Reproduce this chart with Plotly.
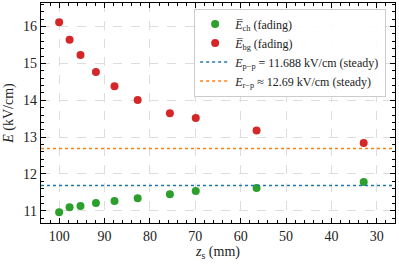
import plotly.graph_objects as go

# Data
z_s = [100, 97.7, 95.3, 91.9, 87.8, 82.7, 75.6, 69.9, 56.5, 32.9]
E_ch = [10.96, 11.10, 11.13, 11.21, 11.27, 11.34, 11.45, 11.54, 11.62, 11.78]
E_bg = [16.12, 15.64, 15.23, 14.77, 14.38, 14.01, 13.65, 13.52, 13.18, 12.84]
E_pp = 11.688
E_rp = 12.69
x_range = [104, 26]
y_range = [10.67, 16.64]

FONT = "Liberation Serif"
fig = go.Figure()
fig.add_trace(go.Scatter(x=z_s, y=E_ch, mode="markers",
                         marker=dict(color="#2ca02c", size=8),
                         name="<i>E\u0305</i><sub>ch</sub> (fading)"))
fig.add_trace(go.Scatter(x=z_s, y=E_bg, mode="markers",
                         marker=dict(color="#d62728", size=8),
                         name="<i>E\u0305</i><sub>bg</sub> (fading)"))
fig.add_trace(go.Scatter(x=x_range, y=[E_pp, E_pp], mode="lines",
                         line=dict(color="#1f77b4", width=1.5, dash="dot"),
                         name="<i>E</i><sub>p\u2212p</sub> = 11.688 kV/cm (steady)"))
fig.add_trace(go.Scatter(x=x_range, y=[E_rp, E_rp], mode="lines",
                         line=dict(color="#ff7f0e", width=1.5, dash="dot"),
                         name="<i>E</i><sub>r\u2212p</sub> \u2248 12.69 kV/cm (steady)"))

axis_common = dict(showline=True, linecolor="black", linewidth=1.2, mirror="allticks",
                   ticks="inside", ticklen=5, tickcolor="black", automargin=False,
                   showgrid=True, gridcolor="#dddddd", griddash="dash", gridwidth=1,
                   zeroline=False, tickfont=dict(family=FONT, size=14, color="#222"))
fig.update_xaxes(**axis_common, range=x_range, dtick=10,
                 minor=dict(dtick=2, ticks="inside", ticklen=2.5, tickcolor="black", showgrid=False),
                 title=dict(text="<i>z</i><sub>s</sub> (mm)", font=dict(family=FONT, size=14, color="#222"),
                            standoff=2))
fig.update_yaxes(**axis_common, range=y_range, dtick=1,
                 minor=dict(dtick=0.2, ticks="inside", ticklen=2.5, tickcolor="black", showgrid=False),
                 title=dict(text="<i>E</i> (kV/cm)", font=dict(family=FONT, size=14, color="#222"),
                            standoff=6))
fig.update_layout(width=399, height=273, margin=dict(l=41, r=4, t=3, b=50),
                  plot_bgcolor="white", paper_bgcolor="white",
                  font=dict(family=FONT, size=12, color="#222"),
                  legend=dict(x=0.975, y=0.975, xanchor="right", yanchor="top",
                              bgcolor="rgba(255,255,255,0.9)", bordercolor="#cccccc", borderwidth=1,
                              font=dict(family=FONT, size=12), tracegroupgap=0,
                              itemwidth=30))
fig.write_html("out.html", config={"displayModeBar": False},
               post_script="document.body.style.margin='0';")
